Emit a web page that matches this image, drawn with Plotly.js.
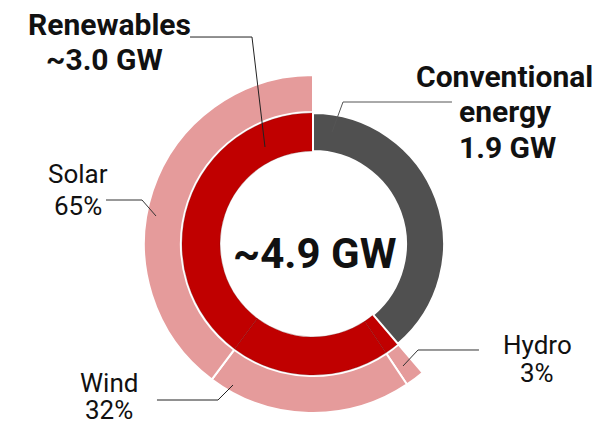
<!DOCTYPE html>
<html>
<head>
<meta charset="utf-8">
<script src="https://cdn.plot.ly/plotly-3.0.1.min.js"></script>
<style>html,body{margin:0;padding:0;background:#fff;}#chart{width:604px;height:425px;}</style>
</head>
<body>
<div id="chart"></div>
<script>
// ---- data ----
const totalLabel = "~4.9 GW";
const groupLabels = ["Renewables", "Conventional energy"];
const groupGW = [3.0, 1.9];
const mixLabels = ["Hydro", "Wind", "Solar"];
const mixShare = [3, 32, 65];   // % of renewables

// ---- styling ----
const RED = "#c00000", GRAY = "#505050", PINK = "#e59b9b";
const W = 604, H = 425;
const CX = 313, CY = 244;
const R_OUT = 169, R_IN = 131;
const px = x => x / W;
const py = y => 1 - y / H;

const renewGW = groupGW[0], convGW = groupGW[1];
const mixGW = mixShare.map(s => s * renewGW / 100);
// slices run clockwise starting right after the conventional share
const startAngle = 360 * convGW / (convGW + renewGW);

// inner ring: renewables split by source (same colour), conventional drawn last
const innerValues = mixGW.concat([convGW]);
const innerLabels = mixLabels.map(l => "Renewables – " + l).concat([groupLabels[1]]);
const innerColors = mixLabels.map(() => RED).concat([GRAY]);
const innerLineColors = mixLabels.map(() => "rgba(90,0,0,0.45)").concat(["#ffffff"]);
const innerLineWidths = mixLabels.map(() => 0.6).concat([2]);

// outer ring: sources of renewables + blank gap for conventional
const outerValues = mixGW.concat([convGW]);
const outerLabels = mixLabels.concat(["blank"]);
const outerColors = mixLabels.map(() => PINK).concat(["rgba(0,0,0,0)"]);
const outerLineWidths = mixLabels.map(() => 2).concat([0]);

const inner = {
  type: "pie", values: innerValues, labels: innerLabels,
  sort: false, direction: "clockwise", rotation: startAngle,
  hole: 93 / R_IN, textinfo: "none", hoverinfo: "none", showlegend: false,
  marker: { colors: innerColors, line: { color: innerLineColors, width: innerLineWidths } },
  domain: { x: [px(CX - R_IN), px(CX + R_IN)], y: [py(CY + R_IN), py(CY - R_IN)] }
};
const outer = {
  type: "pie", values: outerValues, labels: outerLabels,
  sort: false, direction: "clockwise", rotation: startAngle,
  hole: 132 / R_OUT, textinfo: "none", hoverinfo: "none", showlegend: false,
  marker: { colors: outerColors, line: { color: "#ffffff", width: outerLineWidths } },
  domain: { x: [px(CX - R_OUT), px(CX + R_OUT)], y: [py(CY + R_OUT), py(CY - R_OUT)] }
};

const FONT = "Roboto, 'Liberation Sans', sans-serif";
function ann(text, x, y, size, bold) {
  return {
    text: bold ? "<b>" + text + "</b>" : text,
    x: px(x), y: py(y), xref: "paper", yref: "paper",
    xanchor: "center", yanchor: "middle", showarrow: false,
    font: { family: FONT, size: size, color: "#111" }
  };
}
const BIG = 30, SMALL = 26;
const annotations = [
  ann(totalLabel, 315, 253, 42, true),
  ann(groupLabels[0], 109, 24, BIG, true),
  ann("~" + renewGW.toFixed(1) + " GW", 104, 60, BIG, true),
  ann("Conventional", 504, 77, BIG, true),
  ann("energy", 506, 111, BIG, true),
  ann(convGW.toFixed(1) + " GW", 507, 147, BIG, true),
  ann(mixLabels[2], 78, 174, SMALL, false),
  ann(mixShare[2] + "%", 78, 206, SMALL, false),
  ann(mixLabels[1], 109, 383, SMALL, false),
  ann(mixShare[1] + "%", 109, 410, SMALL, false),
  ann(mixLabels[0], 537, 345, SMALL, false),
  ann(mixShare[0] + "%", 537, 373, SMALL, false)
];

function path(pts) {
  return pts.map((p, i) => (i ? "L" : "M") + px(p[0]).toFixed(4) + "," + py(p[1]).toFixed(4)).join(" ");
}
function leader(pts, color) {
  return { type: "path", xref: "paper", yref: "paper", path: path(pts),
           line: { color: color, width: 1 } };
}
const shapes = [
  leader([[190, 37], [252, 37], [265, 147]], "#222"),
  leader([[332, 132], [343, 102], [452, 102]], "#555"),
  leader([[403, 366], [418, 350], [479, 350]], "#333"),
  leader([[106, 200], [142, 200], [156, 216]], "#333"),
  leader([[157, 400], [218, 400], [233, 385]], "#222")
];

Plotly.newPlot("chart", [outer, inner], {
  width: W, height: H,
  margin: { l: 0, r: 0, t: 0, b: 0 },
  paper_bgcolor: "#fff", plot_bgcolor: "#fff",
  annotations: annotations, shapes: shapes
}, { displayModeBar: false, staticPlot: true });
</script>
</body>
</html>
